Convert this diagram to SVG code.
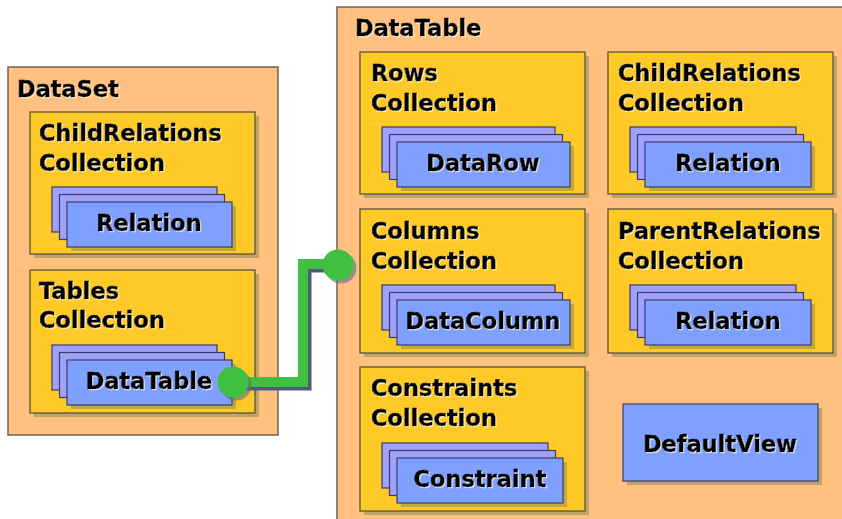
<svg xmlns="http://www.w3.org/2000/svg" width="842" height="519" viewBox="0 0 842 519">
  <defs>
    <style>
      .panel { fill: #FFC080; stroke: #6E6254; stroke-width: 1.5; }
      .coll { fill: #FFCA28; stroke: #4F4A3A; stroke-width: 1.2; }
      .shadow { fill: #6F8050; opacity: 0.45; }
      .back { fill: #A0A0FF; stroke: #3C3C60; stroke-width: 1.2; }
      .card { fill: #7FA0FF; stroke: #3C3C60; stroke-width: 1.2; }
      text { font-family: "DejaVu Sans", Verdana, sans-serif; font-weight: bold; font-size: 22.5px; fill: #000; stroke: #000; stroke-width: 0.45; filter: url(#halo); }
      .mid { text-anchor: middle; }
      .wire-shadow { fill: none; stroke: #4B5C78; stroke-width: 12; stroke-linejoin: miter; }
      .wire { fill: none; stroke: #40C040; stroke-width: 10; stroke-linejoin: miter; }
      .dot { fill: #40C040; }
      .dot-shadow { fill: #5A6A80; opacity: 0.6; }
    </style>
    <filter id="halo" x="-5%" y="-20%" width="110%" height="140%">
      <feOffset in="SourceAlpha" dx="1" dy="1" result="off"/>
      <feFlood flood-color="#FFFFF0" flood-opacity="0.75"/>
      <feComposite in2="off" operator="in" result="glow"/>
      <feMerge>
        <feMergeNode in="glow"/>
        <feMergeNode in="SourceGraphic"/>
      </feMerge>
    </filter>
  </defs>

  <rect width="842" height="519" fill="#FFFFFF"/>

  <!-- DataSet container -->
  <g id="dataset">
    <rect class="panel" x="8" y="67" width="270" height="368"/>
    <text x="17" y="97">DataSet</text>
  </g>

  <g id="dataset-childrelations">
    <rect class="shadow" x="34" y="116" width="225" height="142"/>
    <rect class="coll" x="30" y="112" width="225" height="142"/>
    <text x="39" y="141">ChildRelations</text>
    <text x="39" y="171">Collection</text>
    <rect class="back" x="52" y="187" width="165" height="45"/>
    <rect class="back" x="59.5" y="194.5" width="165" height="45"/>
    <rect class="shadow" x="71" y="206" width="165" height="45"/>
    <rect class="card" x="67" y="202" width="165" height="45"/>
    <text class="mid" x="149" y="231">Relation</text>
  </g>

  <g id="dataset-tables">
    <rect class="shadow" x="34" y="274" width="225" height="143"/>
    <rect class="coll" x="30" y="270" width="225" height="143"/>
    <text x="39" y="299">Tables</text>
    <text x="39" y="328">Collection</text>
    <rect class="back" x="52" y="345" width="165" height="45"/>
    <rect class="back" x="59.5" y="352.5" width="165" height="45"/>
    <rect class="shadow" x="71" y="364" width="165" height="45"/>
    <rect class="card" x="67" y="360" width="165" height="45"/>
    <text class="mid" x="149" y="389">DataTable</text>
  </g>

  <!-- DataTable container -->
  <g id="datatable">
    <rect class="panel" x="337" y="7" width="520" height="530"/>
    <text x="355" y="36">DataTable</text>
  </g>

  <g id="rows">
    <rect class="shadow" x="364" y="56" width="225" height="142"/>
    <rect class="coll" x="360" y="52" width="225" height="142"/>
    <text x="371" y="81">Rows</text>
    <text x="371" y="111">Collection</text>
    <rect class="back" x="382" y="127" width="173" height="45"/>
    <rect class="back" x="389.5" y="134.5" width="173" height="45"/>
    <rect class="shadow" x="401" y="146" width="173" height="45"/>
    <rect class="card" x="397" y="142" width="173" height="45"/>
    <text class="mid" x="483" y="171">DataRow</text>
  </g>

  <g id="childrelations">
    <rect class="shadow" x="612" y="56" width="225" height="142"/>
    <rect class="coll" x="608" y="52" width="225" height="142"/>
    <text x="618" y="81">ChildRelations</text>
    <text x="618" y="111">Collection</text>
    <rect class="back" x="630" y="127" width="166" height="45"/>
    <rect class="back" x="637.5" y="134.5" width="166" height="45"/>
    <rect class="shadow" x="649" y="146" width="166" height="45"/>
    <rect class="card" x="645" y="142" width="166" height="45"/>
    <text class="mid" x="728" y="171">Relation</text>
  </g>

  <g id="columns">
    <rect class="shadow" x="364" y="213" width="225" height="144"/>
    <rect class="coll" x="360" y="209" width="225" height="144"/>
    <text x="371" y="239">Columns</text>
    <text x="371" y="269">Collection</text>
    <rect class="back" x="382" y="285" width="173" height="45"/>
    <rect class="back" x="389.5" y="292.5" width="173" height="45"/>
    <rect class="shadow" x="401" y="304" width="173" height="45"/>
    <rect class="card" x="397" y="300" width="173" height="45"/>
    <text class="mid" x="483" y="329">DataColumn</text>
  </g>

  <g id="parentrelations">
    <rect class="shadow" x="612" y="213" width="225" height="144"/>
    <rect class="coll" x="608" y="209" width="225" height="144"/>
    <text x="618" y="239">ParentRelations</text>
    <text x="618" y="269">Collection</text>
    <rect class="back" x="630" y="285" width="166" height="45"/>
    <rect class="back" x="637.5" y="292.5" width="166" height="45"/>
    <rect class="shadow" x="649" y="304" width="166" height="45"/>
    <rect class="card" x="645" y="300" width="166" height="45"/>
    <text class="mid" x="728" y="329">Relation</text>
  </g>

  <g id="constraints">
    <rect class="shadow" x="364" y="371" width="225" height="144"/>
    <rect class="coll" x="360" y="367" width="225" height="144"/>
    <text x="371" y="396">Constraints</text>
    <text x="371" y="426">Collection</text>
    <rect class="back" x="382" y="443" width="166" height="45"/>
    <rect class="back" x="389.5" y="450.5" width="166" height="45"/>
    <rect class="shadow" x="401" y="462" width="166" height="45"/>
    <rect class="card" x="397" y="458" width="166" height="45"/>
    <text class="mid" x="480" y="487">Constraint</text>
  </g>

  <g id="defaultview">
    <rect class="shadow" x="627" y="408" width="195" height="77"/>
    <rect class="card" x="623" y="404" width="195" height="77"/>
    <text class="mid" x="720" y="452">DefaultView</text>
  </g>

  <!-- link from the DataTable item to the DataTable container -->
  <g id="connectors">
    <path class="wire-shadow" d="M 234 384.5 H 305.5 V 266.5 H 340"/>
    <path class="wire" d="M 233 382 H 303 V 264 H 338"/>
    <circle class="dot-shadow" cx="236" cy="385" r="15.5"/>
    <circle class="dot" cx="233" cy="382" r="15.5"/>
    <circle class="dot-shadow" cx="341" cy="268" r="15.5"/>
    <circle class="dot" cx="338" cy="265" r="15.5"/>
  </g>
</svg>
